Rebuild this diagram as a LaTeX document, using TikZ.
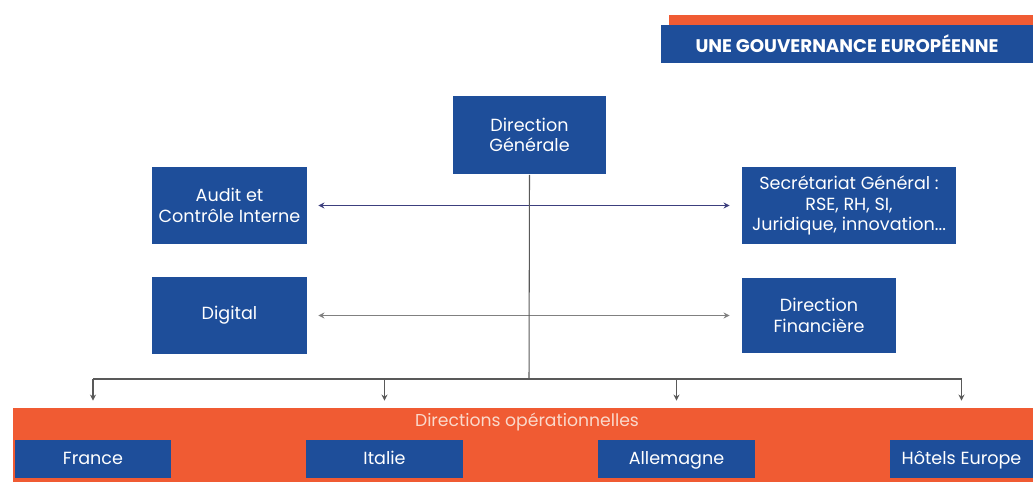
\documentclass[tikz,border=0pt]{standalone}
\usepackage{fontspec}
\setmainfont{Poppins}
\usepackage{tikz}
\usetikzlibrary{arrows.meta, positioning, calc}

\definecolor{govblue}{HTML}{1E4E9A}
\definecolor{govorange}{HTML}{F05B33}
\definecolor{linkblue}{HTML}{3C3F7E}
\definecolor{paletext}{HTML}{FAD9CB}

\begin{document}
\begin{tikzpicture}[x=0.02cm, y=-0.02cm, >=Stealth,
    box/.style={rectangle, fill=govblue, text=white, align=center,
        inner sep=2pt, font=\fontsize{10}{11.6}\selectfont},
    opbox/.style={box, minimum height=0.76cm, text height=1.5ex, text depth=.35ex},
    link/.style={linkblue, line width=0.6pt, {Stealth[length=3.5pt,width=3.5pt]}-{Stealth[length=3.5pt,width=3.5pt]},
        shorten <=0.22cm, shorten >=0.24cm},
    bar/.style={black!65, line width=0.6pt},
    drop/.style={bar, -{Stealth[length=3.5pt,width=3.5pt]}}]
\useasboundingbox (0,0) rectangle (1033,482);

% Title banner
\fill[govorange] (669,15) rectangle (1033,26);
\node[box, minimum width=7.44cm, minimum height=0.76cm,
      font=\bfseries\fontsize{10.4}{12}\selectfont] (title) at (847,44) {UNE GOUVERNANCE EUROPÉENNE};

% Head
\node[box, minimum width=3.06cm, minimum height=1.58cm] (dg) at (529.5,135) {Direction\\Générale};

% Support functions
\node[box, minimum width=3.1cm, minimum height=1.56cm] (audit) at (229.5,205.5) {Audit et\\Contrôle Interne};
\node[box, minimum width=4.28cm, minimum height=1.56cm] (secr) at (849,205.5) {Secrétariat Général :\\RSE, RH, SI,\\Juridique, innovation...};
\node[box, minimum width=3.1cm, minimum height=1.54cm] (digital) at (229.5,315.5) {Digital};
\node[box, minimum width=3.08cm, minimum height=1.52cm] (fin) at (819,315.5) {Direction\\Financière};

\draw[link] (audit) -- (secr);
\draw[link, black!50] (digital) -- (fin);

% Operational band
\node[rectangle, fill=govorange, minimum width=20.4cm, minimum height=1.48cm, inner sep=0pt] (ops) at (523,445) {};
\node[text=paletext, font=\fontsize{9.8}{11}\selectfont] (opslabel) at (527,422) {Directions opérationnelles};

\node[opbox, minimum width=3.12cm] (france) at (93,459) {France};
\node[opbox, minimum width=3.14cm] (italie) at (384.5,459) {Italie};
\node[opbox, minimum width=3.14cm] (allemagne) at (676.5,459) {Allemagne};
\node[opbox, minimum width=2.86cm] (hotels) at (961.5,459) {Hôtels Europe};

% Dispatch to operations
\coordinate (bus) at (529,379);
\draw[bar] (dg.south) -- (bus);
\draw[bar] (france |- bus) -- (hotels |- bus);
\foreach \n in {france, italie, allemagne, hotels}
  \draw[drop] (\n |- bus) -- ([yshift=0.14cm]\n |- ops.north);
\end{tikzpicture}
\end{document}
